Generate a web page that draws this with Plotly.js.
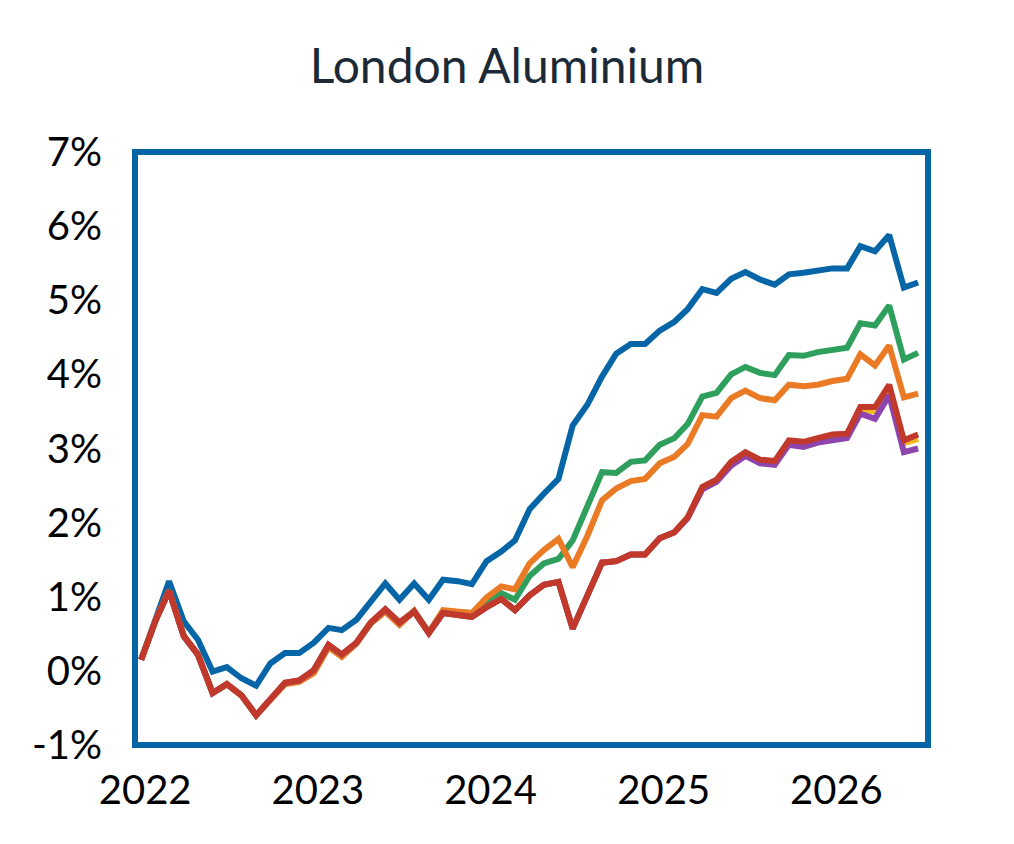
<!DOCTYPE html>
<html>
<head>
<meta charset="utf-8">
<script src="https://cdn.plot.ly/plotly-3.0.1.min.js"></script>
<style>
  html, body { margin: 0; padding: 0; background: #fff; }
  #chart { width: 1014px; height: 844px; }
</style>
</head>
<body>
<div id="chart"></div>
<script>
// monthly points, Jan 2022 .. Jul 2026
const months = [];
for (let y = 2022; y <= 2026; y++) {
  for (let m = 1; m <= 12; m++) {
    if (y === 2026 && m > 7) break;
    months.push(`${y}-${String(m).padStart(2, '0')}-01`);
  }
}

const yearTicks = ['2022-01-01', '2023-01-01', '2024-01-01', '2025-01-01', '2026-01-01'];
const yearLabels = ['2022', '2023', '2024', '2025', '2026'];
const pctTicks = [-1, 0, 1, 2, 3, 4, 5, 6, 7];
const pctLabels = ['-1%', '0%', '1%', '2%', '3%', '4%', '5%', '6%', '7%'];

const blue = [
  0.15, 0.69, 1.21, 0.67, 0.42, -0.01, 0.05, -0.10, -0.20, 0.10, 0.24, 0.24,
  0.38, 0.58, 0.55, 0.69, 0.94, 1.18, 0.96, 1.18, 0.96, 1.23, 1.21, 1.17,
  1.48, 1.61, 1.76, 2.18, 2.39, 2.59, 3.31, 3.59, 3.97, 4.28, 4.41, 4.41,
  4.59, 4.71, 4.88, 5.15, 5.10, 5.29, 5.38, 5.28, 5.21, 5.35, 5.37, 5.40,
  5.43, 5.43, 5.73, 5.66, 5.88, 5.17, 5.24
];
const green = [
  0.15, 0.69, 1.08, 0.47, 0.22, -0.30, -0.18, -0.33, -0.60, -0.39, -0.17, -0.14,
  -0.02, 0.33, 0.20, 0.37, 0.64, 0.81, 0.63, 0.81, 0.52, 0.80, 0.79, 0.78,
  0.93, 1.05, 0.96, 1.28, 1.45, 1.51, 1.76, 2.23, 2.68, 2.67, 2.82, 2.84,
  3.05, 3.14, 3.33, 3.70, 3.75, 4.00, 4.10, 4.02, 3.99, 4.26, 4.25, 4.30,
  4.34, 4.36, 4.69, 4.66, 4.93, 4.20, 4.29
];
const orange = [
  0.15, 0.69, 1.08, 0.47, 0.22, -0.30, -0.18, -0.33, -0.60, -0.39, -0.18, -0.15,
  -0.03, 0.32, 0.19, 0.37, 0.64, 0.80, 0.62, 0.81, 0.52, 0.82, 0.80, 0.78,
  0.99, 1.14, 1.10, 1.45, 1.63, 1.78, 1.40, 1.82, 2.30, 2.46, 2.56, 2.59,
  2.80, 2.89, 3.06, 3.45, 3.43, 3.68, 3.78, 3.68, 3.65, 3.86, 3.84, 3.86,
  3.91, 3.94, 4.27, 4.12, 4.39, 3.69, 3.74
];
const yellow = [
  0.15, 0.69, 1.08, 0.47, 0.22, -0.30, -0.18, -0.33, -0.60, -0.39, -0.16, -0.13,
  0.01, 0.35, 0.22, 0.38, 0.65, 0.83, 0.65, 0.80, 0.51, 0.78, 0.76, 0.73,
  0.86, 0.97, 0.82, 1.02, 1.16, 1.20, 0.57, 1.00, 1.46, 1.48, 1.57, 1.57,
  1.79, 1.87, 2.07, 2.47, 2.56, 2.80, 2.93, 2.83, 2.81, 3.09, 3.07, 3.12,
  3.17, 3.18, 3.53, 3.50, 3.80, 3.07, 3.13
];
const purple = [
  0.15, 0.69, 1.08, 0.47, 0.22, -0.30, -0.18, -0.33, -0.60, -0.39, -0.16, -0.13,
  0.01, 0.35, 0.22, 0.38, 0.65, 0.83, 0.65, 0.80, 0.51, 0.78, 0.76, 0.73,
  0.86, 0.97, 0.82, 1.02, 1.16, 1.20, 0.57, 1.00, 1.46, 1.48, 1.57, 1.57,
  1.79, 1.87, 2.06, 2.45, 2.55, 2.77, 2.90, 2.80, 2.78, 3.05, 3.02, 3.08,
  3.12, 3.14, 3.47, 3.40, 3.72, 2.95, 3.00
];
const red = [
  0.15, 0.69, 1.08, 0.47, 0.22, -0.30, -0.18, -0.33, -0.60, -0.39, -0.16, -0.13,
  0.01, 0.35, 0.22, 0.38, 0.65, 0.83, 0.65, 0.80, 0.51, 0.78, 0.76, 0.73,
  0.86, 0.97, 0.82, 1.02, 1.16, 1.20, 0.57, 1.00, 1.46, 1.48, 1.57, 1.57,
  1.79, 1.87, 2.07, 2.48, 2.58, 2.82, 2.95, 2.85, 2.83, 3.11, 3.09, 3.14,
  3.19, 3.20, 3.56, 3.56, 3.86, 3.11, 3.19
];

const FONT = 'Lato, "Open Sans", sans-serif';
const FRAME = '#0565a6';

function line(y, color) {
  return { x: months, y, type: 'scatter', mode: 'lines', line: { color, width: 6 }, hoverinfo: 'skip' };
}

const traces = [
  line(blue, '#0565a6'),
  line(green, '#2e9f5c'),
  line(orange, '#ea7a24'),
  line(yellow, '#f2b81c'),
  line(purple, '#8e44ad'),
  line(red, '#c0392b')
];

Plotly.newPlot('chart', traces, {
  width: 1014,
  height: 844,
  showlegend: false,
  paper_bgcolor: '#fff',
  plot_bgcolor: '#fff',
  margin: { l: 135, r: 86, t: 152, b: 99 },
  title: {
    text: 'London Aluminium',
    font: { family: FONT, size: 48, color: '#1c2a37' },
    x: 0.5, xref: 'container',
    y: 0.921, yref: 'container', yanchor: 'middle'
  },
  xaxis: {
    type: 'date',
    range: ['2021-12-19', '2026-07-22'],
    tickvals: yearTicks,
    ticktext: yearLabels,
    tickfont: { family: FONT, size: 40, color: '#000' },
    ticks: '',
    ticklabelstandoff: 18,
    ticklabelshift: 4,
    showgrid: false,
    zeroline: false,
    showline: false
  },
  yaxis: {
    range: [-1, 7],
    tickvals: pctTicks,
    ticktext: pctLabels,
    tickfont: { family: FONT, size: 40, color: '#000' },
    ticks: '',
    ticklabelstandoff: 32,
    showgrid: false,
    zeroline: false,
    showline: false
  },
  shapes: [{
    type: 'rect', xref: 'paper', yref: 'paper',
    x0: 0, x1: 1, y0: 0, y1: 1,
    line: { color: FRAME, width: 6 },
    layer: 'below'
  }]
}, { staticPlot: true });
</script>
</body>
</html>
